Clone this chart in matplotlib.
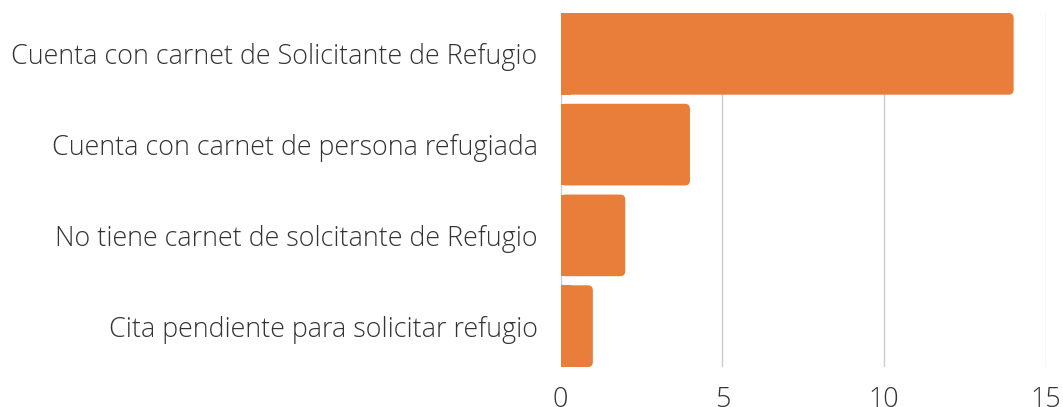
import matplotlib
matplotlib.use("Agg")
import matplotlib.pyplot as plt
from matplotlib.patches import FancyBboxPatch

categories = [
    "Cuenta con carnet de Solicitante de Refugio",
    "Cuenta con carnet de persona refugiada",
    "No tiene carnet de solcitante de Refugio",
    "Cita pendiente para solicitar refugio",
]
values = [14, 4, 2, 1]
xticks = [0, 5, 10, 15]

bar_color = "#E97E3B"
text_color = "#333333"
grid_color = "#CCCCCC"

fam = ["Open Sans", "DejaVu Sans"]
weight = "light"
fs = 19.4

fig = plt.figure(figsize=(10.63, 4.07), dpi=100)
W, H = 1063, 407
left, right, top, bottom = 560.5, 1046, 13, 367
ax = fig.add_axes([left / W, 1 - bottom / H, (right - left) / W, (bottom - top) / H])

ax.set_xlim(0, 15)
ax.set_ylim(3.45, -0.45)

bh = 0.9
px_per_x = (right - left) / 15
px_per_y = (bottom - top) / 3.9
r_px = 5
for i, v in enumerate(values):
    y0 = i - bh / 2
    rx = r_px / px_per_x
    ry = r_px / px_per_y
    p = FancyBboxPatch((0, y0), v, bh,
                       boxstyle=f"round,pad=0,rounding_size={rx}",
                       mutation_aspect=ry / rx,
                       facecolor=bar_color, edgecolor="none", zorder=3)
    ax.add_patch(p)
    ax.add_patch(plt.Rectangle((0, y0), min(v, 2 * rx), bh, facecolor=bar_color,
                               edgecolor="none", zorder=3))

ax.set_xticks(xticks)
ax.set_xticklabels([str(t) for t in xticks], family=fam, weight=weight, fontsize=fs, color=text_color)
ax.set_yticks(range(len(categories)))
ax.set_yticklabels(categories, family=fam, weight=weight, fontsize=fs, color=text_color)
ax.tick_params(axis="both", length=0)
ax.tick_params(axis="y", pad=16.5)
ax.tick_params(axis="x", pad=13.5)
for s in ax.spines.values():
    s.set_visible(False)
ax.grid(axis="x", color=grid_color, linewidth=1, zorder=0)
ax.set_axisbelow(True)

fig.savefig("out.png", dpi=100)
